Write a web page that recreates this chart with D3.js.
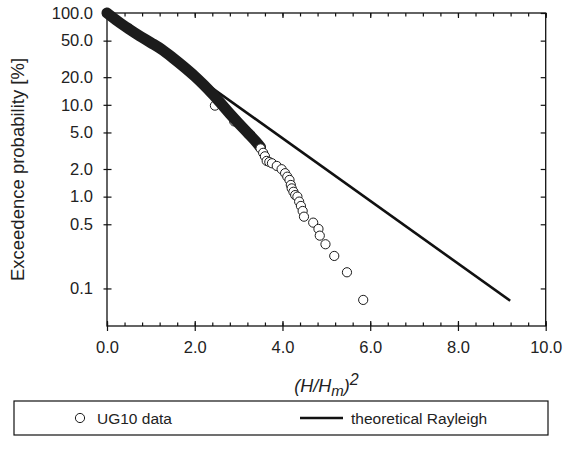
<!DOCTYPE html>
<html>
<head>
<meta charset="utf-8">
<script src="https://cdnjs.cloudflare.com/ajax/libs/d3/7.8.5/d3.min.js"></script>
<style>
  body { margin: 0; background: #fff; }
  text { font-family: "Liberation Sans", Arial, sans-serif; fill: #222; }
</style>
</head>
<body>
<div id="chart"></div>
<script>
// dense part of the UG10 data (circles overlap into a solid band)
var bandX = [0, 0.25, 0.5, 0.75, 1.0, 1.25, 1.5, 1.75, 2.0, 2.2, 2.4, 2.6, 2.8, 3.0, 3.2, 3.4, 3.5];
var bandP = [100, 81, 67, 56, 47.5, 40, 32.5, 26, 20.5, 16.6, 13.2, 10.3, 8.0, 6.3, 5.0, 3.95, 3.45];

// UG10 circles sticking out below the band
var underX = [2.46, 2.9];
var underP = [9.8, 6.6];

// individually visible UG10 circles
var ptsX = [3.5, 3.56, 3.6, 3.64, 3.7, 3.76, 3.87, 3.98, 4.06, 4.11, 4.16, 4.19, 4.21, 4.25, 4.29, 4.34, 4.38, 4.42, 4.46, 4.49, 4.70, 4.82, 4.85, 4.98, 5.18, 5.47, 5.84];
var ptsP = [3.35, 3.0, 2.75, 2.45, 2.38, 2.31, 2.16, 1.99, 1.80, 1.65, 1.52, 1.34, 1.23, 1.13, 1.04, 1.00, 0.883, 0.792, 0.698, 0.605, 0.521, 0.445, 0.376, 0.303, 0.226, 0.150, 0.075];

// theoretical Rayleigh line end points
var rayX = [0, 9.19];
var rayP = [100, 0.0735];

var xTicks = [0, 2, 4, 6, 8, 10];
var xMinor = d3.range(0, 10.01, 0.4);
var yTicks = [100, 50, 20, 10, 5, 2, 1, 0.5, 0.1];

var width = 565, height = 451;
var plotL = 107, plotR = 545.7, plotT = 13, plotB = 326;

var svg = d3.select("#chart").append("svg")
    .attr("width", width)
    .attr("height", height);

var x = d3.scaleLinear().domain([0, 10]).range([plotL, plotR]);
var y = d3.scaleLog().domain([0.039, 100]).range([plotB, plotT]);

var fmt = d3.format(".1f");

//frame
svg.append("rect")
    .attr("x", plotL).attr("y", plotT)
    .attr("width", plotR - plotL).attr("height", plotB - plotT)
    .attr("fill", "none").attr("stroke", "#111").attr("stroke-width", 1.3);

function clean(g) {
  g.select(".domain").remove();
  g.selectAll(".tick line").attr("stroke", "#111").attr("stroke-width", 1.2);
}

//bottom axis, labels + outward majors
svg.append("g")
    .attr("transform", "translate(0," + plotB + ")")
    .call(d3.axisBottom(x).tickValues(xTicks).tickFormat(fmt).tickSize(5).tickPadding(10))
    .call(clean)
    .selectAll("text").style("font-size", "16.5px");

//inward ticks bottom + top
svg.append("g")
    .attr("transform", "translate(0," + plotB + ")")
    .call(d3.axisTop(x).tickValues(xMinor).tickFormat("").tickSize(3.5))
    .call(clean);
svg.append("g")
    .attr("transform", "translate(0," + plotB + ")")
    .call(d3.axisTop(x).tickValues(xTicks).tickFormat("").tickSize(5))
    .call(clean);
svg.append("g")
    .attr("transform", "translate(0," + plotT + ")")
    .call(d3.axisBottom(x).tickValues(xMinor).tickFormat("").tickSize(3.5))
    .call(clean);
svg.append("g")
    .attr("transform", "translate(0," + plotT + ")")
    .call(d3.axisBottom(x).tickValues(xTicks).tickFormat("").tickSize(5))
    .call(clean);

//left axis
svg.append("g")
    .attr("transform", "translate(" + plotL + ",0)")
    .call(d3.axisLeft(y).tickValues(yTicks).tickFormat(fmt).tickSize(3.5).tickPadding(10.5))
    .call(clean)
    .selectAll("text").style("font-size", "16.5px");
svg.append("g")
    .attr("transform", "translate(" + plotL + ",0)")
    .call(d3.axisRight(y).tickValues(yTicks).tickFormat("").tickSize(4.5))
    .call(clean);
//right axis
svg.append("g")
    .attr("transform", "translate(" + plotR + ",0)")
    .call(d3.axisLeft(y).tickValues(yTicks).tickFormat("").tickSize(5))
    .call(clean);

//rayleigh line
var line = d3.line()
    .x(function(d) { return x(d[0]); })
    .y(function(d) { return y(d[1]); });

svg.append("path")
    .datum(d3.zip(rayX, rayP))
    .attr("d", line)
    .attr("fill", "none")
    .attr("stroke", "#111")
    .attr("stroke-width", 2.6);

function circles(xs, ps) {
  svg.append("g").selectAll("circle")
      .data(d3.zip(xs, ps))
      .enter()
      .append("circle")
      .attr("cx", function(d) { return x(d[0]); })
      .attr("cy", function(d) { return y(d[1]); })
      .attr("r", 4.6)
      .attr("fill", "#fff")
      .attr("stroke", "#1c1c1c")
      .attr("stroke-width", 1);
}

circles(underX, underP);

//dense data band
svg.append("path")
    .datum(d3.zip(bandX, bandP))
    .attr("d", line.curve(d3.curveMonotoneX))
    .attr("fill", "none")
    .attr("stroke", "#1c1c1c")
    .attr("stroke-width", 11)
    .attr("stroke-linecap", "round")
    .attr("stroke-linejoin", "round");

circles(ptsX, ptsP);

//axis titles
svg.append("text")
    .attr("transform", "translate(24," + ((plotT + plotB) / 2) + ") rotate(-90)")
    .attr("text-anchor", "middle")
    .style("font-size", "18.5px")
    .text("Exceedence probability [%]");

var xt = svg.append("text")
    .attr("x", (plotL + plotR) / 2)
    .attr("y", 392)
    .attr("text-anchor", "middle")
    .style("font-size", "18px")
    .style("font-style", "italic");
xt.append("tspan").text("(H/H");
xt.append("tspan").attr("dy", 4).style("font-size", "15px").text("m");
xt.append("tspan").attr("dy", -4).text(")");
xt.append("tspan").attr("dy", -7).style("font-size", "16px").text("2");

//legend
var leg = svg.append("g");
leg.append("rect")
    .attr("x", 14).attr("y", 401)
    .attr("width", 534).attr("height", 34)
    .attr("fill", "none").attr("stroke", "#111").attr("stroke-width", 1.2);
leg.append("circle")
    .attr("cx", 80).attr("cy", 418).attr("r", 4.6)
    .attr("fill", "#fff").attr("stroke", "#1c1c1c");
leg.append("text")
    .attr("x", 97).attr("y", 424)
    .style("font-size", "15.5px")
    .text("UG10 data");
leg.append("line")
    .attr("x1", 300).attr("x2", 343)
    .attr("y1", 418).attr("y2", 418)
    .attr("stroke", "#111").attr("stroke-width", 2.6);
leg.append("text")
    .attr("x", 351).attr("y", 424)
    .style("font-size", "15.5px")
    .text("theoretical Rayleigh");
</script>
</body>
</html>
